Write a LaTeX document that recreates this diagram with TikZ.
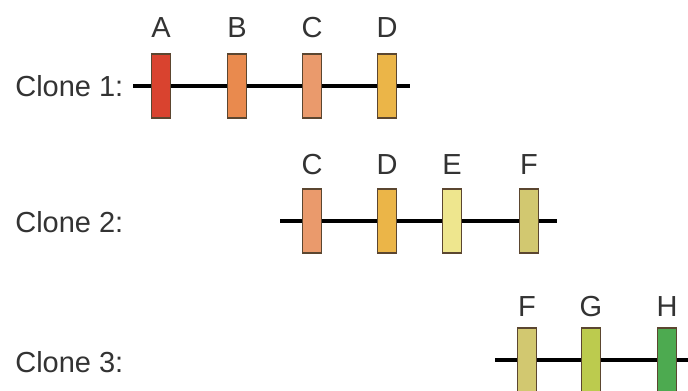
\documentclass[tikz,border=0pt]{standalone}
\usepackage{fontspec}
\setmainfont{Liberation Sans}
\usepackage{xcolor}

\definecolor{textgrey}{HTML}{333333}
\definecolor{boxedge}{HTML}{5B4630}
\definecolor{colA}{HTML}{D9432F}
\definecolor{colB}{HTML}{E98A4E}
\definecolor{colC}{HTML}{EA9A6C}
\definecolor{colD}{HTML}{EBB548}
\definecolor{colE}{HTML}{EEE68E}
\definecolor{colF}{HTML}{D2C870}
\definecolor{colG}{HTML}{BCCB4E}
\definecolor{colH}{HTML}{4DAA50}

\begin{document}
\begin{tikzpicture}
    [x=0.02cm,y=-0.02cm,
     every node/.style={font=\fontsize{16.5}{18}\selectfont,text=textgrey},
     gene/.style={rectangle,draw=boxedge,line width=1.1pt,minimum width=0.38cm,minimum height=1.28cm,inner sep=0pt},
     clonelbl/.style={anchor=west,inner sep=0pt},
     rod/.style={line width=2.1pt}]
    \clip (0,0) rectangle (688,390);
    \fill[white] (0,0) rectangle (688,390);

    % Clone 1
    \node[clonelbl] (t1) at (15,86) {Clone 1:};
    \coordinate (s1) at (133,86);
    \coordinate (e1) at (410,86);
    \node[gene,fill=colA] (a1) at (161,86) {};
    \node[gene,fill=colB] (b1) at (237,86) {};
    \node[gene,fill=colC] (c1) at (312,86) {};
    \node[gene,fill=colD] (d1) at (387,86) {};
    \node (la1) at (161,28) {A};
    \node (lb1) at (237,28) {B};
    \node (lc1) at (312,28) {C};
    \node (ld1) at (387,28) {D};

    % Clone 2
    \node[clonelbl] (t2) at (15,222) {Clone 2:};
    \coordinate (s2) at (280,221);
    \coordinate (e2) at (557,221);
    \node[gene,fill=colC] (c2) at (312,221) {};
    \node[gene,fill=colD] (d2) at (387,221) {};
    \node[gene,fill=colE] (e2b) at (452,221) {};
    \node[gene,fill=colF] (f2) at (529,221) {};
    \node (lc2) at (312,165) {C};
    \node (ld2) at (387,165) {D};
    \node (le2) at (452,165) {E};
    \node (lf2) at (529,165) {F};

    % Clone 3
    \node[clonelbl] (t3) at (15,362) {Clone 3:};
    \coordinate (s3) at (495,360);
    \coordinate (e3) at (700,360);
    \node[gene,fill=colF] (f3) at (527,360) {};
    \node[gene,fill=colG] (g3) at (591,360) {};
    \node[gene,fill=colH] (h3) at (667,360) {};
    \node (lf3) at (527,307) {F};
    \node (lg3) at (591,307) {G};
    \node (lh3) at (667,307) {H};

    \foreach \from/\to in {s1/a1, a1/b1, b1/c1, c1/d1, d1/e1,
                           s2/c2, c2/d2, d2/e2b, e2b/f2, f2/e2,
                           s3/f3, f3/g3, g3/h3, h3/e3}
    \draw[rod] (\from) -- (\to);
\end{tikzpicture}
\end{document}
